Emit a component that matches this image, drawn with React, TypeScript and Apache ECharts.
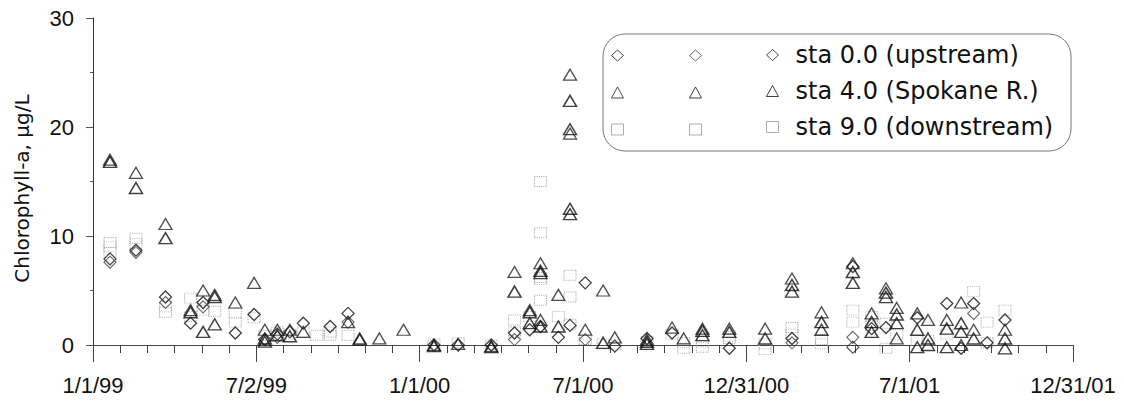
import React, { useEffect, useRef } from "react";
import * as echarts from "echarts";

// ---- tick labels ----
const xTickLabels = ["1/1/99", "7/2/99", "1/1/00", "7/1/00", "12/31/00", "7/1/01", "12/31/01"];
const X_INTERVAL_DAYS = 182.5;
const X_MAX_DAYS = 1095;
const yTickValues = [0, 10, 20, 30];

// ---- station names ----
const stationLabels = ["sta 0.0 (upstream)", "sta 4.0 (Spokane R.)", "sta 9.0 (downstream)"];

// ---- samples: [date, value, value, ...] (several samples per date) ----
const sta0Samples: (string | number)[][] = [
  ["1999-01-20", 7.9, 7.6],
  ["1999-02-18", 8.7, 8.5],
  ["1999-03-23", 4.4, 3.9],
  ["1999-04-20", 2.0],
  ["1999-05-04", 3.9, 3.5],
  ["1999-06-09", 1.1],
  ["1999-06-30", 2.8],
  ["1999-07-12", 0.5],
  ["1999-07-26", 1.0, 0.7],
  ["1999-08-09", 1.2],
  ["1999-08-24", 2.0],
  ["1999-09-23", 1.7],
  ["1999-10-13", 2.9, 2.1],
  ["2000-01-17", 0.0],
  ["2000-02-13", 0.0],
  ["2000-03-21", 0.0],
  ["2000-04-16", 1.1, 0.5],
  ["2000-05-03", 1.4],
  ["2000-05-15", 1.7],
  ["2000-06-04", 0.7],
  ["2000-06-17", 1.8],
  ["2000-07-04", 5.7, 0.5],
  ["2000-08-06", -0.1],
  ["2000-09-11", 0.6],
  ["2000-10-09", 1.1],
  ["2000-12-12", -0.3],
  ["2001-02-20", 0.6, 0.2],
  ["2001-04-29", 7.2, 0.7, -0.2],
  ["2001-05-20", 1.5],
  ["2001-06-05", 1.6],
  ["2001-07-10", 2.5],
  ["2001-08-12", 3.8],
  ["2001-08-28", -0.3],
  ["2001-09-11", 3.8, 2.9],
  ["2001-09-26", 0.2],
  ["2001-10-16", 2.3],
];

const sta4Samples: (string | number)[][] = [
  ["1999-01-20", 17.0, 16.8],
  ["1999-02-18", 15.8, 14.4],
  ["1999-03-23", 11.1, 9.8],
  ["1999-04-20", 3.2, 3.0],
  ["1999-05-04", 5.0, 1.2],
  ["1999-05-17", 4.6, 4.4, 1.9],
  ["1999-06-09", 3.9],
  ["1999-06-30", 5.7],
  ["1999-07-12", 1.4, 0.6, 0.3],
  ["1999-07-26", 1.4, 0.9],
  ["1999-08-09", 1.4, 0.8],
  ["1999-08-24", 1.2],
  ["1999-10-13", 2.1],
  ["1999-10-26", 0.6, 0.5],
  ["1999-11-17", 0.6],
  ["1999-12-14", 1.4],
  ["2000-01-17", 0.0, -0.1],
  ["2000-02-13", 0.1],
  ["2000-03-21", -0.1, -0.2],
  ["2000-04-16", 6.7, 4.9],
  ["2000-05-03", 3.2, 3.0, 2.0],
  ["2000-05-15", 7.5, 6.8, 6.6, 2.3, 1.7],
  ["2000-06-04", 4.6, 1.7],
  ["2000-06-17", 24.8, 22.4, 19.8, 19.4, 12.5, 12.0],
  ["2000-07-04", 1.4],
  ["2000-07-24", 5.0, 0.2],
  ["2000-08-06", 0.7],
  ["2000-09-11", 0.5, 0.3, 0.1],
  ["2000-10-09", 1.6],
  ["2000-10-22", 0.6],
  ["2000-11-12", 1.5, 1.3, 0.9],
  ["2000-12-12", 1.5, 1.2],
  ["2001-01-21", 1.5, 0.6],
  ["2001-02-20", 6.1, 5.5, 4.9],
  ["2001-03-25", 3.0, 2.1, 1.4],
  ["2001-04-29", 7.5, 6.7, 5.7],
  ["2001-05-20", 2.9, 2.1, 1.2],
  ["2001-06-05", 5.2, 4.8, 4.4],
  ["2001-06-17", 3.4, 2.8, 2.0, 0.6],
  ["2001-07-10", 2.9, 1.4, -0.2],
  ["2001-07-22", 2.3, 0.6, 0.0],
  ["2001-08-12", 2.3, 1.5, -0.2],
  ["2001-08-28", 3.9, 2.0, 1.2, 0.0],
  ["2001-09-11", 1.4, 0.6],
  ["2001-10-16", 1.4, 0.6, -0.3],
];

const sta9Samples: (string | number)[][] = [
  ["1999-01-20", 9.4, 9.0, 8.5],
  ["1999-02-18", 9.8, 9.3],
  ["1999-03-23", 3.5, 3.0],
  ["1999-04-20", 4.3, 2.6],
  ["1999-05-04", 4.1, 3.2],
  ["1999-05-17", 3.1],
  ["1999-06-09", 2.9, 2.1],
  ["1999-06-30", 2.5],
  ["1999-07-12", 0.9],
  ["1999-07-26", 1.2],
  ["1999-08-09", 1.0],
  ["1999-08-24", 1.2],
  ["1999-09-08", 0.9],
  ["1999-09-23", 1.2, 0.9],
  ["1999-10-13", 0.9],
  ["2000-01-17", 0.1],
  ["2000-02-13", 0.2],
  ["2000-03-21", 0.0],
  ["2000-04-16", 2.3, 1.2],
  ["2000-05-03", 2.6],
  ["2000-05-15", 15.0, 10.3, 6.2, 6.0, 4.1],
  ["2000-06-04", 2.6],
  ["2000-06-17", 6.4, 4.4, 1.9],
  ["2000-07-04", 0.5],
  ["2000-07-24", 0.1],
  ["2000-08-06", 0.0],
  ["2000-09-11", 0.3],
  ["2000-10-09", 1.0],
  ["2000-10-22", 0.2, -0.3],
  ["2000-11-12", 0.3, -0.2],
  ["2000-12-12", 0.8, 0.6],
  ["2001-01-21", 0.1, -0.4],
  ["2001-02-20", 1.6, 1.0],
  ["2001-03-25", 0.5, 0.1],
  ["2001-04-29", 3.2, 2.1],
  ["2001-05-20", 2.6, 1.8],
  ["2001-06-05", 2.0, -0.3],
  ["2001-06-17", 1.0],
  ["2001-07-10", 0.4],
  ["2001-07-22", 0.4],
  ["2001-08-12", 1.0],
  ["2001-09-11", 4.9],
  ["2001-09-26", 2.1, 0.2],
  ["2001-10-16", 3.2],
];

const AXIS_FONT = "'Liberation Sans', Arial, Helvetica, sans-serif";
const WIDE_FONT = "'DejaVu Sans', 'Liberation Sans', sans-serif";

const ORIGIN = Date.UTC(1999, 0, 1);
function toDay(s: string): number {
  const [y, m, d] = s.split("-").map(Number);
  return (Date.UTC(y, m - 1, d) - ORIGIN) / 86400000;
}

function pick(samples: (string | number)[][], variant: number): number[][] {
  const out: number[][] = [];
  samples.forEach(([d, ...vals]) => {
    vals.forEach((v, i) => {
      if (i % 3 === variant) out.push([toDay(d as string), v as number]);
    });
  });
  return out;
}

const stationStyles = [
  {
    samples: sta0Samples,
    symbol: "diamond",
    size: [12, 12],
    z: 3,
    variants: [
      { color: "#111", width: 1.3, type: "solid" },
      { color: "#444", width: 1.1, type: "solid" },
      { color: "#222", width: 1.1, type: "solid" },
    ],
  },
  {
    samples: sta4Samples,
    symbol: "triangle",
    size: [13, 11],
    z: 4,
    variants: [
      { color: "#222", width: 1.3, type: "solid" },
      { color: "#111", width: 1.5, type: "solid" },
      { color: "#111", width: 1.4, type: "solid" },
    ],
  },
  {
    samples: sta9Samples,
    symbol: "rect",
    size: [12, 10],
    z: 2,
    variants: [
      { color: "#999", width: 1, type: "dotted" },
      { color: "#999", width: 1, type: "dotted" },
      { color: "#999", width: 1, type: "dotted" },
    ],
  },
];

function seriesName(st: number, v: number): string {
  return v === 2 ? stationLabels[st] : stationLabels[st] + " #" + (v + 1);
}

function buildOption() {
  const series: any[] = [];
  stationStyles.forEach((st, si) => {
    st.variants.forEach((vs, vi) => {
      series.push({
        type: "scatter",
        name: seriesName(si, vi),
        xAxisIndex: 0,
        yAxisIndex: 0,
        data: pick(st.samples, vi),
        symbol: st.symbol,
        symbolSize: st.size,
        z: st.z,
        itemStyle: {
          color: "rgba(0,0,0,0)",
          borderColor: vs.color,
          borderWidth: vs.width,
          borderType: vs.type,
        },
        emphasis: { disabled: true },
      });
    });
  });

  const legendBase = {
    orient: "vertical",
    itemWidth: 12,
    itemHeight: 11,
    padding: 0,
    selectedMode: false,
    textStyle: { fontFamily: WIDE_FONT, fontSize: 24, color: "#111" },
    itemStyle: { borderWidth: 1 },
  };

  return {
    animation: false,
    backgroundColor: "#fff",
    textStyle: { fontFamily: AXIS_FONT },
    grid: [
      { left: 93, right: 51, top: 18, bottom: 51.65 },
      { left: 93, right: 51, top: 18, bottom: 68 },
    ],
    xAxis: [
      {
        gridIndex: 0,
        type: "value",
        min: 0,
        max: X_MAX_DAYS,
        interval: X_INTERVAL_DAYS,
        axisLine: { onZero: true, lineStyle: { color: "#444", width: 1 } },
        axisTick: { length: 17, lineStyle: { color: "#444" } },
        minorTick: { show: true, splitNumber: 6, length: 8, lineStyle: { color: "#444" } },
        splitLine: { show: false },
        axisLabel: {
          margin: 13,
          fontSize: 22,
          fontFamily: AXIS_FONT,
          color: "#111",
          showMinLabel: true,
          showMaxLabel: true,
          formatter: (v: number) => xTickLabels[Math.round(v / X_INTERVAL_DAYS)] ?? "",
        },
      },
      { gridIndex: 1, type: "value", min: 0, max: X_MAX_DAYS, show: false },
    ],
    yAxis: [
      {
        gridIndex: 0,
        type: "value",
        min: -1.5,
        max: 30,
        axisLine: { show: true, lineStyle: { color: "#333", width: 1 } },
        axisTick: { show: false },
        axisLabel: { show: false },
        splitLine: { show: false },
      },
      {
        gridIndex: 1,
        type: "value",
        min: yTickValues[0],
        max: yTickValues[yTickValues.length - 1],
        interval: 10,
        axisLine: { show: false },
        axisTick: { show: true, length: 7, lineStyle: { color: "#555" } },
        minorTick: { show: true, splitNumber: 2, length: 3, lineStyle: { color: "#555" } },
        splitLine: { show: false },
        axisLabel: { margin: 19, fontSize: 22, fontFamily: AXIS_FONT, color: "#111" },
        name: "Chlorophyll-a, μg/L",
        nameLocation: "middle",
        nameGap: 61,
        nameRotate: 90,
        nameTextStyle: { fontFamily: WIDE_FONT, fontSize: 20, color: "#111", padding: [0, 14, 0, 0] },
      },
    ],
    legend: [
      {
        ...legendBase,
        left: 611,
        top: 49.5,
        itemGap: 25,
        data: [0, 1, 2].map((s) => seriesName(s, 0)),
        formatter: () => "",
      },
      {
        ...legendBase,
        left: 689,
        top: 49.5,
        itemGap: 25,
        data: [0, 1, 2].map((s) => seriesName(s, 1)),
        formatter: () => "",
      },
      {
        ...legendBase,
        left: 766,
        top: 43,
        itemGap: 12,
        data: [0, 1, 2].map((s) => seriesName(s, 2)),
        textStyle: { ...legendBase.textStyle, padding: [0, 0, 0, 12] },
      },
    ],
    graphic: [
      {
        type: "rect",
        silent: true,
        z: 1,
        shape: { x: 603, y: 34, width: 468, height: 117, r: 22 },
        style: { fill: "none", stroke: "#777", lineWidth: 1 },
      },
    ],
    series,
  };
}

export default function App() {
  const ref = useRef<HTMLDivElement>(null);
  useEffect(() => {
    if (!ref.current) return;
    const chart = echarts.init(ref.current, undefined, { renderer: "svg" });
    chart.setOption(buildOption() as any);
    return () => chart.dispose();
  }, []);
  return (
    <div
      ref={ref}
      style={{ position: "fixed", left: 0, top: 0, width: 1124, height: 413, background: "#fff" }}
    />
  );
}
